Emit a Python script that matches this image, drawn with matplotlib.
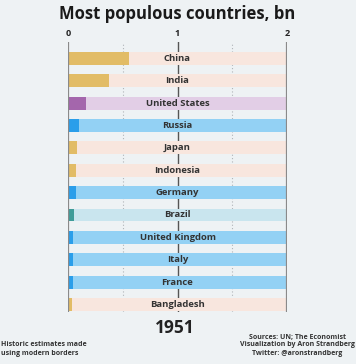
import numpy as np
import matplotlib; matplotlib.use("Agg")
import matplotlib.pyplot as plt

plt.rcParams["font.family"] = ["Open Sans", "DejaVu Sans"]

countries = ["China", "India", "United States", "Russia", "Japan", "Indonesia",
             "Germany", "Brazil", "United Kingdom", "Italy", "France", "Bangladesh"]
values = [0.56, 0.37, 0.16, 0.105, 0.085, 0.075, 0.07, 0.055, 0.05, 0.047, 0.042, 0.038]
regions = ["asia", "asia", "na", "eu", "asia", "asia", "eu", "sa", "eu", "eu", "eu", "asia"]
year = "1951"

fg = {"asia": "#E2BC66", "na": "#A466AC", "eu": "#2A9EEA", "sa": "#3F9C99"}
bg = {"asia": "#F8E6DE", "na": "#E2CEE6", "eu": "#93D1F4", "sa": "#C9E5EE"}
BGC = "#EEF2F4"

W, H = 356, 364
fig = plt.figure(figsize=(W/100, H/100), dpi=100, facecolor=BGC)
ax = fig.add_axes([68/W, 1-312/H, 219/W, 270/H])
ax.set_facecolor(BGC)
ax.set_xlim(0, 2)
ax.set_ylim(11.34, -0.74)

y = np.arange(len(countries))
for xv, c, lw, ls in [(0.5, "#b0b4b8", 0.8, (0, (1, 2))), (1.5, "#b0b4b8", 0.8, (0, (1, 2))),
                      (1, "#555555", 1.0, "-")]:
    ax.axvline(xv, color=c, lw=lw, ls=ls, zorder=0)
ax.axvline(0, color="#8a8a8a", lw=1.6, zorder=3)
ax.axvline(2, color="#8a8a8a", lw=1.6, zorder=3)

ax.barh(y, [2]*len(y), height=0.58, color=[bg[r] for r in regions], zorder=1)
ax.barh(y, values, height=0.58, color=[fg[r] for r in regions], zorder=2)
for yi, name in zip(y, countries):
    ax.text(1, yi, name, ha="center", va="center", fontsize=6.8, fontweight="bold",
            color="#333333", zorder=4)

for s in ax.spines.values():
    s.set_visible(False)
ax.set_xticks([]); ax.set_yticks([])

for xv in [0, 1, 2]:
    fig.text((68 + xv*109.5)/W, 1-33/H, str(xv), ha="center", va="center",
             fontsize=6.5, fontweight="bold", color="#222222")

fig.text(177/W, 1-14/H, "Most populous countries, bn", ha="center", va="center",
         fontsize=12, fontweight="bold", color="#1a1a1a")
fig.text(175/W, 1-328/H, year, ha="center", va="center", fontsize=12.5,
         fontweight="bold", color="#222222")
fig.text(1/W, 1-349/H, "Historic estimates made\nusing modern borders", ha="left",
         va="center", fontsize=5.0, fontweight="bold", color="#333333", linespacing=1.25)
fig.text(355/W, 1-345/H, "Sources: UN; The Economist\nVisualization by Aron Strandberg\nTwitter: @aronstrandberg",
         ha="right", va="center", fontsize=5.0, fontweight="bold", color="#333333",
         linespacing=1.25, multialignment="center")

fig.savefig("out.png", dpi=100, facecolor=BGC)
